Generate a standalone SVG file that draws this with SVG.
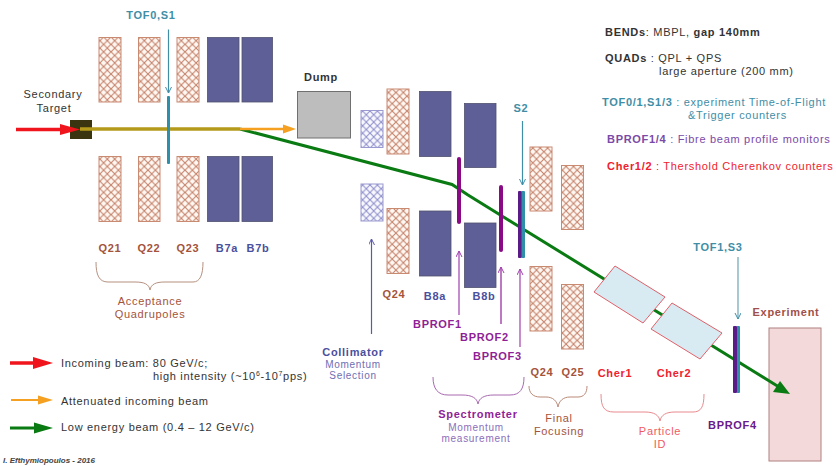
<svg xmlns="http://www.w3.org/2000/svg" width="836" height="466" viewBox="0 0 836 466">
<style>
text{font-family:"Liberation Sans",Arial,sans-serif;font-size:11px;letter-spacing:.7px}
.b{font-weight:bold}
.m{text-anchor:middle}
.q{fill:url(#hq);stroke:#c98a72;stroke-width:1}
.c{fill:url(#hc);stroke:#9a9ad0;stroke-width:1}
.d{fill:#5f5f97;stroke:#50506f;stroke-width:.8}
.qt{fill:#a5533a}
.dt{fill:#4a4f9e}
.tt{fill:#3f8ea6}
.pt{fill:#8f1f96}
.lp{fill:#8a6fbb}
.rt{fill:#f0222e}
.k{fill:#333}
.br{fill:none;stroke-width:1}
.ln{fill:none;stroke-width:1.2}
</style>
<defs>
<pattern id="hq" width="7.4" height="7.4" patternUnits="userSpaceOnUse"><rect width="7.4" height="7.4" fill="#fff8f2"/><path d="M0 0L7.4 7.4M7.4 0L0 7.4" stroke="#c4816a" stroke-width="1.100"/></pattern>
<pattern id="hc" width="7.4" height="7.4" patternUnits="userSpaceOnUse"><rect width="7.4" height="7.4" fill="#f8f8ff"/><path d="M0 0L7.4 7.4M7.4 0L0 7.4" stroke="#8f8fcb" stroke-width="1.100"/></pattern>
<marker id="at" markerWidth="8" markerHeight="8" refX="6" refY="3" orient="auto" markerUnits="userSpaceOnUse"><path d="M0 0L6 3L0 6" fill="none" stroke="#3f8ea6" stroke-width="1"/></marker>
<marker id="ap" markerWidth="8" markerHeight="8" refX="6" refY="3" orient="auto" markerUnits="userSpaceOnUse"><path d="M0 0L6 3L0 6" fill="none" stroke="#a13fae" stroke-width="1"/></marker>
<marker id="ab" markerWidth="8" markerHeight="8" refX="6" refY="3" orient="auto" markerUnits="userSpaceOnUse"><path d="M0 0L6 3L0 6" fill="none" stroke="#5a5aa8" stroke-width="1"/></marker>
</defs>
<rect width="836" height="466" fill="#fff"/>

<g id="quads-21-23">
<rect class="q" x="99" y="37.500" width="22" height="64.500"/><rect class="q" x="138.500" y="37.500" width="21.500" height="64.500"/><rect class="q" x="177" y="37.500" width="22" height="64.500"/>
<rect class="q" x="99" y="156.500" width="22" height="65"/><rect class="q" x="138.500" y="156.500" width="21.500" height="65"/><rect class="q" x="177" y="156.500" width="22" height="65"/>
<text class="b qt m" x="110" y="252">Q21</text><text class="b qt m" x="149" y="252">Q22</text><text class="b qt m" x="188" y="252">Q23</text>
</g>
<g id="bends-b7">
<rect class="d" x="207.500" y="37.500" width="31.500" height="64.500"/><rect class="d" x="242" y="37.500" width="30.500" height="64.500"/>
<rect class="d" x="207.500" y="156.500" width="31.500" height="65"/><rect class="d" x="242" y="156.500" width="30.500" height="65"/>
<text class="b dt m" x="227" y="252">B7a</text><text class="b dt m" x="258" y="252">B7b</text>
</g>
<g id="target">
<rect x="70" y="120" width="22" height="19" fill="#3a3410"/>
<text class="k m" x="53" y="98">Secondary</text><text class="k m" x="54" y="112">Target</text>
</g>
<g id="dump">
<rect x="297.500" y="91.500" width="53" height="46.500" fill="#bdbdbd" stroke="#707070"/>
<text class="b k" x="304" y="81">Dump</text>
</g>
<g id="collimator">
<rect class="c" x="361" y="110.500" width="22" height="37"/><rect class="c" x="361" y="184" width="22" height="37"/>
<text class="b dt m" x="353" y="356">Collimator</text>
<text class="lp m" x="353" y="368" style="fill:#6e6eb4;font-size:10px">Momentum</text><text class="lp m" x="353" y="379" style="fill:#6e6eb4;font-size:10px">Selection</text>
</g>
<g id="q24-a">
<rect class="q" x="387" y="89" width="22" height="65"/><rect class="q" x="387" y="208.500" width="22" height="65"/>
<text class="b qt m" x="394" y="298">Q24</text>
</g>
<g id="bends-b8">
<rect class="d" x="419.500" y="91.500" width="31.500" height="65"/><rect class="d" x="464.500" y="103.500" width="31.500" height="64"/>
<rect class="d" x="419.500" y="211" width="31.500" height="65"/><rect class="d" x="464.500" y="223" width="31.500" height="64.500"/>
<text class="b dt m" x="435" y="300">B8a</text><text class="b dt m" x="484" y="300">B8b</text>
</g>
<g id="q24-q25">
<rect class="q" x="530" y="147" width="22" height="64"/><rect class="q" x="561.500" y="165.500" width="22" height="64"/>
<rect class="q" x="530" y="266.500" width="22" height="64.500"/><rect class="q" x="561.500" y="284.500" width="22" height="64.500"/>
<text class="b qt m" x="542" y="376">Q24</text><text class="b qt m" x="573" y="376">Q25</text>
</g>
<g id="experiment">
<rect x="769" y="328" width="52" height="133" fill="#f3d9d9" stroke="#b08080"/>
<text class="b m" x="786" y="316" style="fill:#a0504a">Experiment</text>
</g>

<g id="connectors">
<path d="M240 129L452 184.500L468 195L779 387" fill="none" stroke="#0a7a12" stroke-width="3"/>
<path d="M790 394L773 392L780 381Z" fill="#0a7a12"/>
<path d="M240 129H287" fill="none" stroke="#f5a020" stroke-width="2.500"/><path d="M296 129L283 133.500V124.500Z" fill="#f5a020"/>
<path d="M16 129.500H64" fill="none" stroke="#f0141c" stroke-width="3.500"/><path d="M80 129.500L60 135V124Z" fill="#f0141c"/>
<path d="M80 129H240" fill="none" stroke="#b49a1a" stroke-width="3.500"/>
<path d="M168.500 29.500V93" class="ln" stroke="#3f8ea6" marker-end="url(#at)"/>
<path d="M522.500 121V185" class="ln" stroke="#3f8ea6" marker-end="url(#at)"/>
<path d="M738 257V319" class="ln" stroke="#6aa5b8" marker-end="url(#at)"/>
<path d="M371.500 334V239" class="ln" stroke="#5a5aa8" marker-end="url(#ab)"/>
<path d="M459 315V251" class="ln" stroke="#a13fae" marker-end="url(#ap)"/>
<path d="M501 324V267" class="ln" stroke="#8f1f96" marker-end="url(#ap)"/>
<path d="M520 347V269" class="ln" stroke="#a13fae" marker-end="url(#ap)"/>
<path d="M96 262C96 275 99 282 108 282H135C144 282 149 284 150 290C151 284 156 282 165 282H193C200 282 203 275 203 262" class="br" stroke="#b5917f"/>
<path d="M433 377C433 389 438 395 448 395H462C472 395 477 398 478 404C479 398 484 395 494 395H510C520 395 524 389 524 377" class="br" stroke="#a86ab0"/>
<path d="M529 386C529 393 533 397 540 397H546C553 397 557 401 558 407C559 401 563 397 570 397H578C584 397 587 393 587 386" class="br" stroke="#bb8a78"/>
<path d="M601 394C601 407 604 412 614 412H645C654 412 659 415 660 421C661 415 666 412 675 412H693C701 412 704 407 704 394" class="br" stroke="#e98a8e"/>
</g>

<g id="cher">
<polygon points="615,266 665,297 643,323 594,292" fill="#d8ebf2" stroke="#e0606a" stroke-width="1"/>
<polygon points="672,303 722,333 700,359 651,329" fill="#d8ebf2" stroke="#e0606a" stroke-width="1"/>
<text class="b rt m" x="615" y="377">Cher1</text><text class="b rt m" x="674" y="377">Cher2</text>
</g>

<g id="scintillators">
<rect x="167" y="96" width="3" height="68" fill="#2f8fa8" rx="1"/>
<rect x="457" y="157" width="4" height="67" fill="#8a0a86" rx="2"/>
<rect x="499" y="185" width="4" height="67" fill="#8a0a86" rx="2"/>
<rect x="521" y="191" width="4" height="67" fill="#2f8fa8" rx="1"/>
<rect x="518" y="191" width="3.500" height="67" fill="#5a1a88" rx="1"/>
<rect x="736.500" y="326" width="3.500" height="67" fill="#2f8fa8" rx="1"/>
<rect x="733" y="326" width="4" height="67" fill="#5a1a88" rx="1"/>
</g>

<g id="labels">
<text class="b tt m" x="151" y="19">TOF0,S1</text>
<text class="b tt m" x="521" y="112">S2</text>
<text class="b tt m" x="718" y="251">TOF1,S3</text>
<text class="b pt" x="413" y="328">BPROF1</text>
<text class="b pt" x="460" y="341">BPROF2</text>
<text class="b pt" x="473" y="360">BPROF3</text>
<text class="b" x="708" y="429" style="fill:#6a1a8a">BPROF4</text>
<text class="qt m" x="150" y="305">Acceptance</text><text class="qt m" x="150" y="318">Quadrupoles</text>
<text class="b pt m" x="478" y="418">Spectrometer</text>
<text class="lp m" x="476" y="431" style="font-size:10px">Momentum</text><text class="lp m" x="476" y="442" style="font-size:10px">measurement</text>
<text class="qt m" x="559" y="422">Final</text><text class="qt m" x="559" y="435">Focusing</text>
<text class="rt m" x="660" y="435" style="fill:#ef5a62">Particle</text><text class="rt m" x="660" y="448" style="fill:#ef5a62">ID</text>
</g>

<g id="notes">
<text class="k" x="605" y="36"><tspan class="b">BENDs</tspan>: MBPL, <tspan class="b">gap 140mm</tspan></text>
<text class="k" x="605" y="62"><tspan class="b">QUADs</tspan> : QPL + QPS</text>
<text class="k" x="659" y="75">large aperture (200 mm)</text>
<text class="tt" x="602" y="106"><tspan class="b">TOF0/1,S1/3</tspan> : experiment Time-of-Flight</text>
<text class="tt" x="688" y="119">&amp;Trigger counters</text>
<text x="607" y="143" style="fill:#7a4aa8"><tspan class="b">BPROF1/4</tspan> : Fibre beam profile monitors</text>
<text class="rt" x="607" y="170"><tspan class="b">Cher1/2</tspan> : Thershold Cherenkov counters</text>
</g>

<g id="legend">
<path d="M10 363H38" fill="none" stroke="#f0141c" stroke-width="3.500"/><path d="M53 363L33 369V357Z" fill="#f0141c"/>
<path d="M11 400H40" fill="none" stroke="#f5a020" stroke-width="2"/><path d="M53 400L38 404.500V395.500Z" fill="#f5a020"/>
<path d="M10 428H38" fill="none" stroke="#0a7a12" stroke-width="3"/><path d="M53 428L34 433.500V422.500Z" fill="#0a7a12"/>
<text class="k" x="61" y="367">Incoming beam: 80 GeV/c;</text>
<text class="k" x="153" y="380">high intensity (~10<tspan dy="-4" style="font-size:7px">6</tspan><tspan dy="4">-10</tspan><tspan dy="-4" style="font-size:7px">7</tspan><tspan dy="4">pps)</tspan></text>
<text class="k" x="61" y="405">Attenuated incoming beam</text>
<text class="k" x="61" y="431">Low energy beam (0.4 – 12 GeV/c)</text>
<text x="3" y="463" style="font-size:8px;font-style:italic;font-weight:bold;letter-spacing:0;fill:#444">I. Efthymiopoulos - 2016</text>
</g>
</svg>
